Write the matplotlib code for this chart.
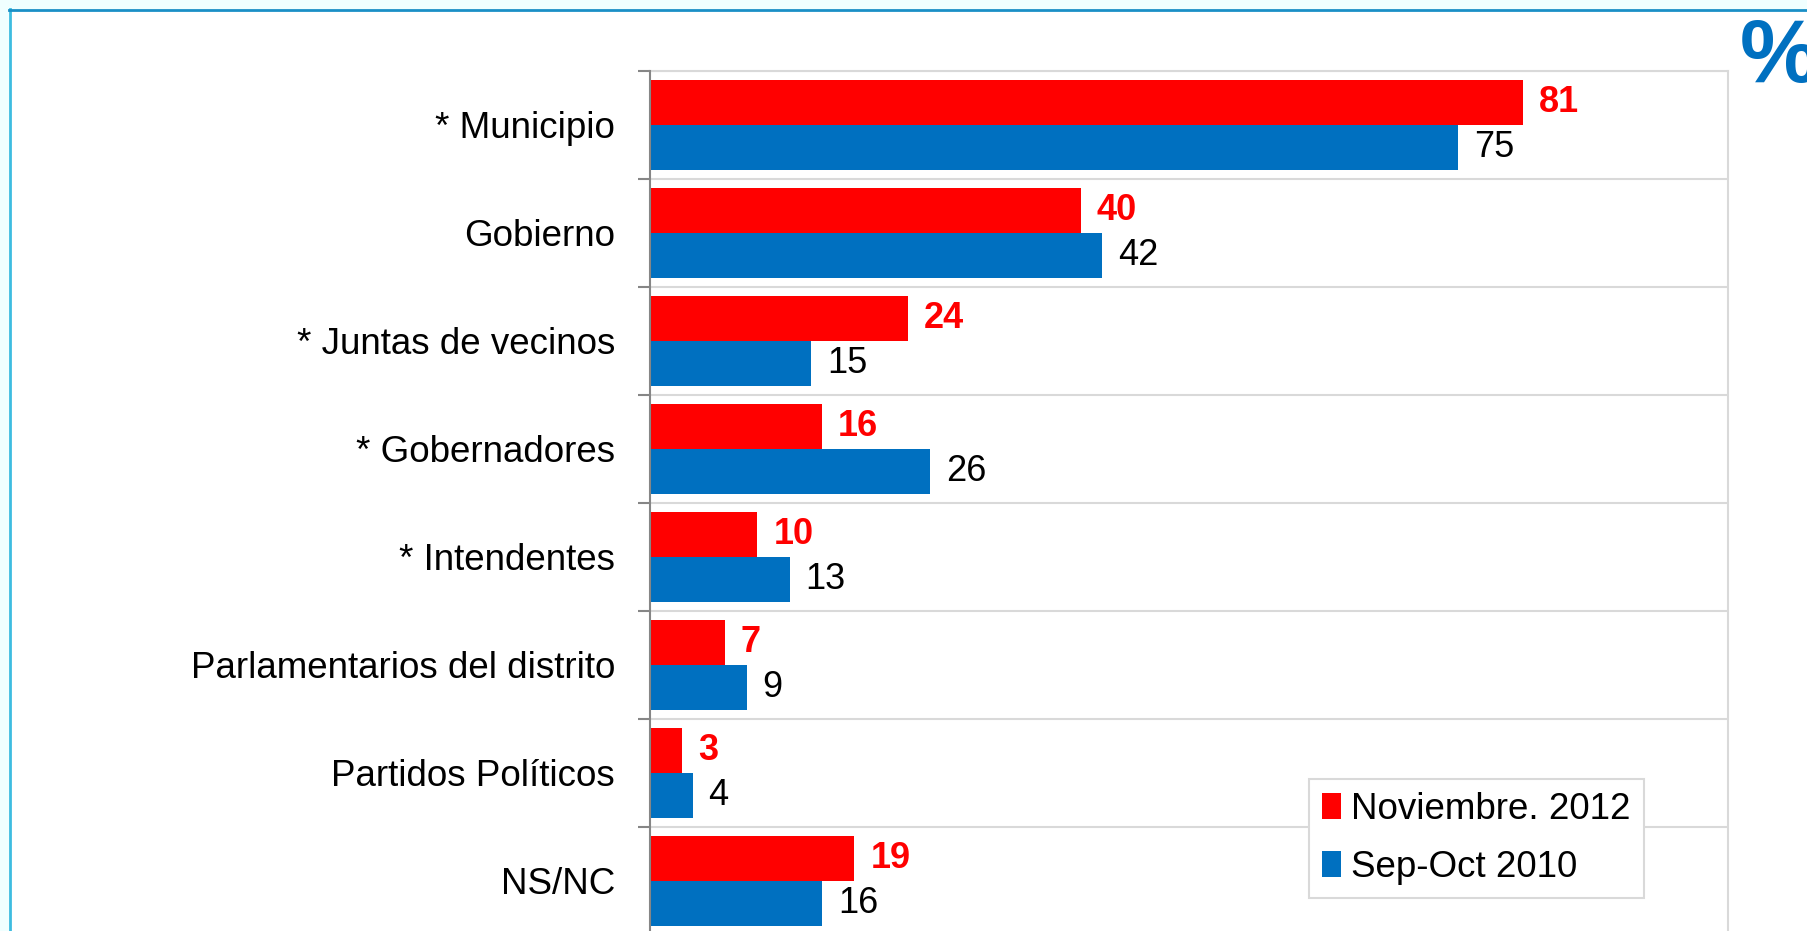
import matplotlib.pyplot as plt
from matplotlib.patches import Rectangle
from matplotlib.lines import Line2D
import numpy as np

plt.rcParams['font.family'] = ['Liberation Sans', 'DejaVu Sans']

# ------------------------------------------------------------
# Data
# ------------------------------------------------------------
categories = ['* Municipio', 'Gobierno', '* Juntas de vecinos', '* Gobernadores',
              '* Intendentes', 'Parlamentarios del distrito', 'Partidos Políticos',
              'NS/NC']
nov_2012 = [81, 40, 24, 16, 10, 7, 3, 19]
sep_oct_2010 = [75, 42, 15, 26, 13, 9, 4, 16]
series_labels = ['Noviembre. 2012', 'Sep-Oct 2010']

RED = '#FF0000'
BLUE = '#0070C0'
GRID = '#D9D9D9'
W, H = 1808, 931

# ------------------------------------------------------------
# Figure + slide frame
# ------------------------------------------------------------
fig = plt.figure(figsize=(W / 100, H / 100), dpi=100, facecolor='#F0FFFF')
fig.patches.append(Rectangle((11 / W, 0), 1, 1 - 10 / H, transform=fig.transFigure,
                             facecolor='white', edgecolor='none', zorder=-5))
fig.lines.append(Line2D([10 / W, 10 / W], [0, 1 - 9 / H], transform=fig.transFigure,
                        color='#3DBCE0', linewidth=2, zorder=-4))
fig.lines.append(Line2D([9 / W, 1], [1 - 9.5 / H, 1 - 9.5 / H], transform=fig.transFigure,
                        color='#1A8FC6', linewidth=2, zorder=-4))

ax = fig.add_axes([649.5 / W, (931 - 934.7) / H, 1078.2 / W, 864 / H])
ax.set_facecolor('none')

y = np.arange(len(categories))
bh = 0.4167
b1 = ax.barh(y - bh / 2, nov_2012, height=bh, color=RED, label=series_labels[0], zorder=3)
b2 = ax.barh(y + bh / 2, sep_oct_2010, height=bh, color=BLUE, label=series_labels[1], zorder=3)

for rect, v in zip(b1, nov_2012):
    ax.annotate(str(v), (rect.get_width(), rect.get_y() + rect.get_height() / 2),
                xytext=(11.5, 0), textcoords='offset points', va='center', ha='left',
                fontsize=26, fontweight='bold', color=RED)
for rect, v in zip(b2, sep_oct_2010):
    ax.annotate(str(v), (rect.get_width(), rect.get_y() + rect.get_height() / 2),
                xytext=(11.5, 0), textcoords='offset points', va='center', ha='left',
                fontsize=26, color='black')

ax.set_xlim(0, 100)
ax.set_ylim(len(categories) - 0.5, -0.5)

ax.set_yticks(y)
ax.set_yticklabels(categories, fontsize=26.5)
ax.tick_params(axis='y', which='major', length=0, pad=24.8)
ax.set_yticks(np.arange(len(categories) + 1) - 0.5, minor=True)
ax.tick_params(axis='y', which='minor', length=8.6, width=1.5, color='#868686')
ax.grid(axis='y', which='minor', color=GRID, linewidth=1.5, zorder=1)
ax.set_xticks([])

ax.spines['left'].set_color('#868686')
ax.spines['left'].set_linewidth(1.5)
ax.spines['left'].set_zorder(4)
ax.spines['top'].set_color(GRID)
ax.spines['top'].set_linewidth(1.5)
ax.spines['right'].set_color(GRID)
ax.spines['right'].set_linewidth(1.5)
ax.spines['bottom'].set_visible(False)

leg = ax.legend(loc='upper left', bbox_to_anchor=(1309 / W, 1 - 779 / H),
                bbox_transform=fig.transFigure, fontsize=26.5, frameon=True,
                fancybox=False, framealpha=1, edgecolor=GRID,
                handlelength=0.5, handleheight=0.7, handletextpad=0.28,
                labelspacing=0.62, borderpad=0.36, borderaxespad=0)
leg.get_frame().set_linewidth(1.5)

fig.text(1740 / W, 1 - 82 / H, '%', fontsize=64, fontweight='bold', color=BLUE,
         ha='left', va='baseline')

fig.savefig('out.png', dpi=100, facecolor=fig.get_facecolor())
